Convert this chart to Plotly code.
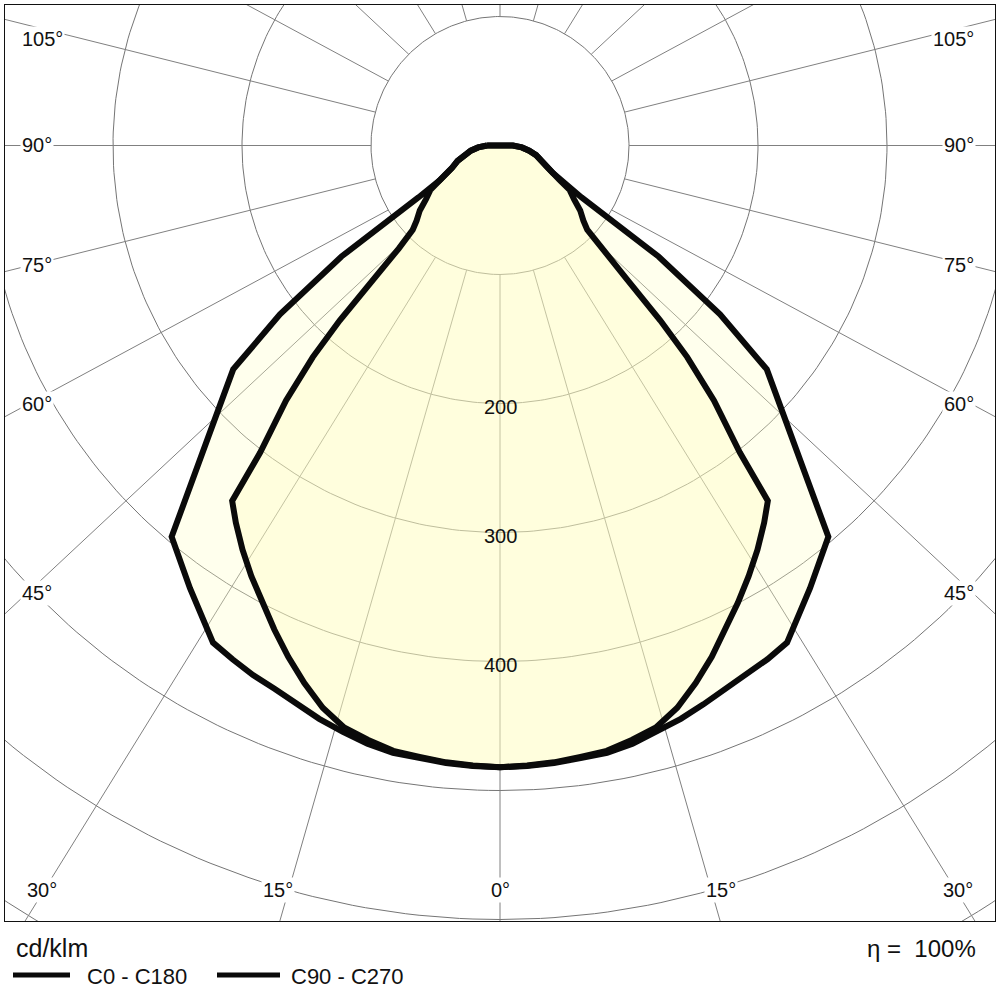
import numpy as np
import plotly.graph_objects as go

# ---------------- data (cd/klm) ----------------
GAMMA_C0_C180 = [0, 2.5, 5, 7.5, 10, 12.5, 15, 17.5, 20, 22.5, 25, 27.5, 30,
                 35, 40, 45, 50, 52.5, 55, 57.5, 60, 62.5, 65, 70, 75, 80, 85, 90]
I_C0_C180 = [482, 481.5, 480.5, 479, 478, 475, 470.5, 466, 461, 456, 453, 449, 445,
             419, 396, 320, 270, 215, 150, 75, 54, 46, 41, 35, 29, 23, 17, 10]

GAMMA_C90_C270 = [0, 2.5, 5, 7.5, 10, 12.5, 15, 17.5, 20, 22.5, 25, 27.5, 30, 32.5,
                  35, 37, 38, 40, 41.5, 42.5, 43.5, 44.5, 46, 48, 51, 54, 57.5, 60,
                  62.5, 65, 70, 75, 80, 85, 90]
I_C90_C270 = [482, 481, 480, 478, 476.5, 472, 467, 457, 443.5, 429, 414, 399.5, 385.5, 371.5,
              357, 345, 302, 258, 219, 184, 143, 112, 94, 87, 80, 71, 64, 53,
              46, 41, 35, 29, 23, 17, 10]

GRID_RADII = [100, 200, 300, 400, 500, 600, 700]
GRID_ANGLES = list(range(0, 360, 15))
RADIUS_LABELS = [200, 300, 400]
SIDE_ANGLE_LABELS = [105, 90, 75, 60, 45]
BOTTOM_ANGLE_LABELS = [30, 15, 0, 15, 30]
LEGEND_NAMES = ["C0 - C180", "C90 - C270"]
UNIT_LABEL = "cd/klm"
EFFICIENCY_LABEL = "\u03b7 =\u00a0 100%"

# ---------------- layout geometry (pixels) ----------------
W, H = 1000, 1000
ML, MR, MT, MB = 5, 5, 5, 79
CX, CY = 500.0, 145.5          # pole position in pixels
PX_PER_UNIT = 1.29             # pixels per cd/klm
GRID_STRETCH = 1.065           # far end of radial grid lines (as in reference)

x_range = [(ML - CX) / PX_PER_UNIT, (W - MR - CX) / PX_PER_UNIT]
y_range = [-((H - MB) - CY) / PX_PER_UNIT, (CY - MT) / PX_PER_UNIT]

FONT = "Arial, Liberation Sans, sans-serif"


def px_to_paper(px, py):
    return (px - ML) / (W - ML - MR), ((H - MB) - py) / (H - MT - MB)


def curve_xy(gammas, values):
    g = np.radians(np.asarray(gammas, dtype=float))
    v = np.asarray(values, dtype=float)
    # left half from 90 deg down to 0, then right half back up to 90 deg
    xl, yl = -v[::-1] * np.sin(g[::-1]), -v[::-1] * np.cos(g[::-1])
    xr, yr = v[1:] * np.sin(g[1:]), -v[1:] * np.cos(g[1:])
    x = np.concatenate([xl, xr, xl[:1]])
    y = np.concatenate([yl, yr, yl[:1]])
    return x, y


fig = go.Figure()

# ---------------- grid: circles ----------------
t = np.radians(np.arange(0, 361, 1))
cx, cy = [], []
for r in GRID_RADII:
    cx += list(r * np.sin(t)) + [None]
    cy += list(-r * np.cos(t)) + [None]
fig.add_trace(go.Scatter(x=cx, y=cy, mode="lines",
                         line=dict(color="#757575", width=1),
                         hoverinfo="skip", showlegend=False))

# ---------------- grid: radial lines ----------------
rx, ry = [], []
r0, r1 = GRID_RADII[0], 1200
for a in GRID_ANGLES:
    ar = np.radians(a)
    rx += [r0 * np.sin(ar), r1 * GRID_STRETCH * np.sin(ar), None]
    ry += [-r0 * np.cos(ar), -r1 * np.cos(ar), None]
fig.add_trace(go.Scatter(x=rx, y=ry, mode="lines",
                         line=dict(color="#808080", width=1),
                         hoverinfo="skip", showlegend=False))

# ---------------- fills ----------------
x0, y0 = curve_xy(GAMMA_C0_C180, I_C0_C180)
x9, y9 = curve_xy(GAMMA_C90_C270, I_C90_C270)
fig.add_trace(go.Scatter(x=x0, y=y0, mode="lines", fill="toself",
                         fillcolor="rgba(255,255,200,0.32)",
                         line=dict(width=0, color="rgba(0,0,0,0)"),
                         hoverinfo="skip", showlegend=False))
fig.add_trace(go.Scatter(x=x9, y=y9, mode="lines", fill="toself",
                         fillcolor="rgba(255,251,188,0.32)",
                         line=dict(width=0, color="rgba(0,0,0,0)"),
                         hoverinfo="skip", showlegend=False))

# ---------------- outlines ----------------
fig.add_trace(go.Scatter(x=x0, y=y0, mode="lines", name=LEGEND_NAMES[0],
                         line=dict(color="#0a0a0a", width=6),
                         showlegend=False))
fig.add_trace(go.Scatter(x=x9, y=y9, mode="lines", name=LEGEND_NAMES[1],
                         line=dict(color="#0a0a0a", width=6),
                         showlegend=False))

annotations = []

# radius labels
for r in RADIUS_LABELS:
    annotations.append(dict(x=0, y=-r, xref="x", yref="y", text=str(r),
                            showarrow=False, yshift=-3,
                            font=dict(family=FONT, size=20, color="#111")))

# side angle labels
side_y = [39, 145, 265, 404, 593]
for a, py in zip(SIDE_ANGLE_LABELS, side_y):
    xl, yp = px_to_paper(20, py)
    annotations.append(dict(x=xl, y=yp, xref="paper", yref="paper",
                            text=f"{a}\u00b0", showarrow=False,
                            xanchor="left", yanchor="middle",
                            bgcolor="white", borderpad=1,
                            font=dict(family=FONT, size=20, color="#111")))
    xr, _ = px_to_paper(976, py)
    annotations.append(dict(x=xr, y=yp, xref="paper", yref="paper",
                            text=f"{a}\u00b0", showarrow=False,
                            xanchor="right", yanchor="middle",
                            bgcolor="white", borderpad=1,
                            font=dict(family=FONT, size=20, color="#111")))

# bottom angle labels
bottom_x = [42, 278, 500, 721, 958]
for a, px in zip(BOTTOM_ANGLE_LABELS, bottom_x):
    xp, yp = px_to_paper(px, 890)
    annotations.append(dict(x=xp, y=yp, xref="paper", yref="paper",
                            text=f"{a}\u00b0", showarrow=False,
                            xanchor="center", yanchor="middle",
                            bgcolor="white", borderpad=1,
                            font=dict(family=FONT, size=20, color="#111")))

# unit + efficiency
xp, yp = px_to_paper(14, 948)
annotations.append(dict(x=xp, y=yp, xref="paper", yref="paper", text=UNIT_LABEL,
                        showarrow=False, xanchor="left", yanchor="middle",
                        font=dict(family=FONT, size=25, color="#111")))
xp, yp = px_to_paper(978, 948)
annotations.append(dict(x=xp, y=yp, xref="paper", yref="paper", text=EFFICIENCY_LABEL,
                        showarrow=False, xanchor="right", yanchor="middle",
                        font=dict(family=FONT, size=24, color="#111")))

# legend
shapes = []
legend_items = [(13, 70, 85), (217, 280, 289)]
for name, (lx0, lx1, tx) in zip(LEGEND_NAMES, legend_items):
    a0, b0 = px_to_paper(lx0, 975)
    a1, _ = px_to_paper(lx1, 975)
    shapes.append(dict(type="line", xref="paper", yref="paper",
                       x0=a0, x1=a1, y0=b0, y1=b0,
                       line=dict(color="#0a0a0a", width=5)))
    tp, tq = px_to_paper(tx, 976)
    annotations.append(dict(x=tp, y=tq, xref="paper", yref="paper", text=name,
                            showarrow=False, xanchor="left", yanchor="middle",
                            font=dict(family=FONT, size=22, color="#111")))

axis_common = dict(showgrid=False, zeroline=False, showticklabels=False,
                   ticks="", showline=True, mirror=True,
                   linecolor="#111", linewidth=1, fixedrange=True)

fig.update_layout(
    width=W, height=H,
    margin=dict(l=ML, r=MR, t=MT, b=MB, pad=0),
    paper_bgcolor="white", plot_bgcolor="white",
    xaxis=dict(range=x_range, **axis_common),
    yaxis=dict(range=y_range, **axis_common),
    annotations=annotations, shapes=shapes,
    showlegend=False,
)

fig.write_html("out.html")
